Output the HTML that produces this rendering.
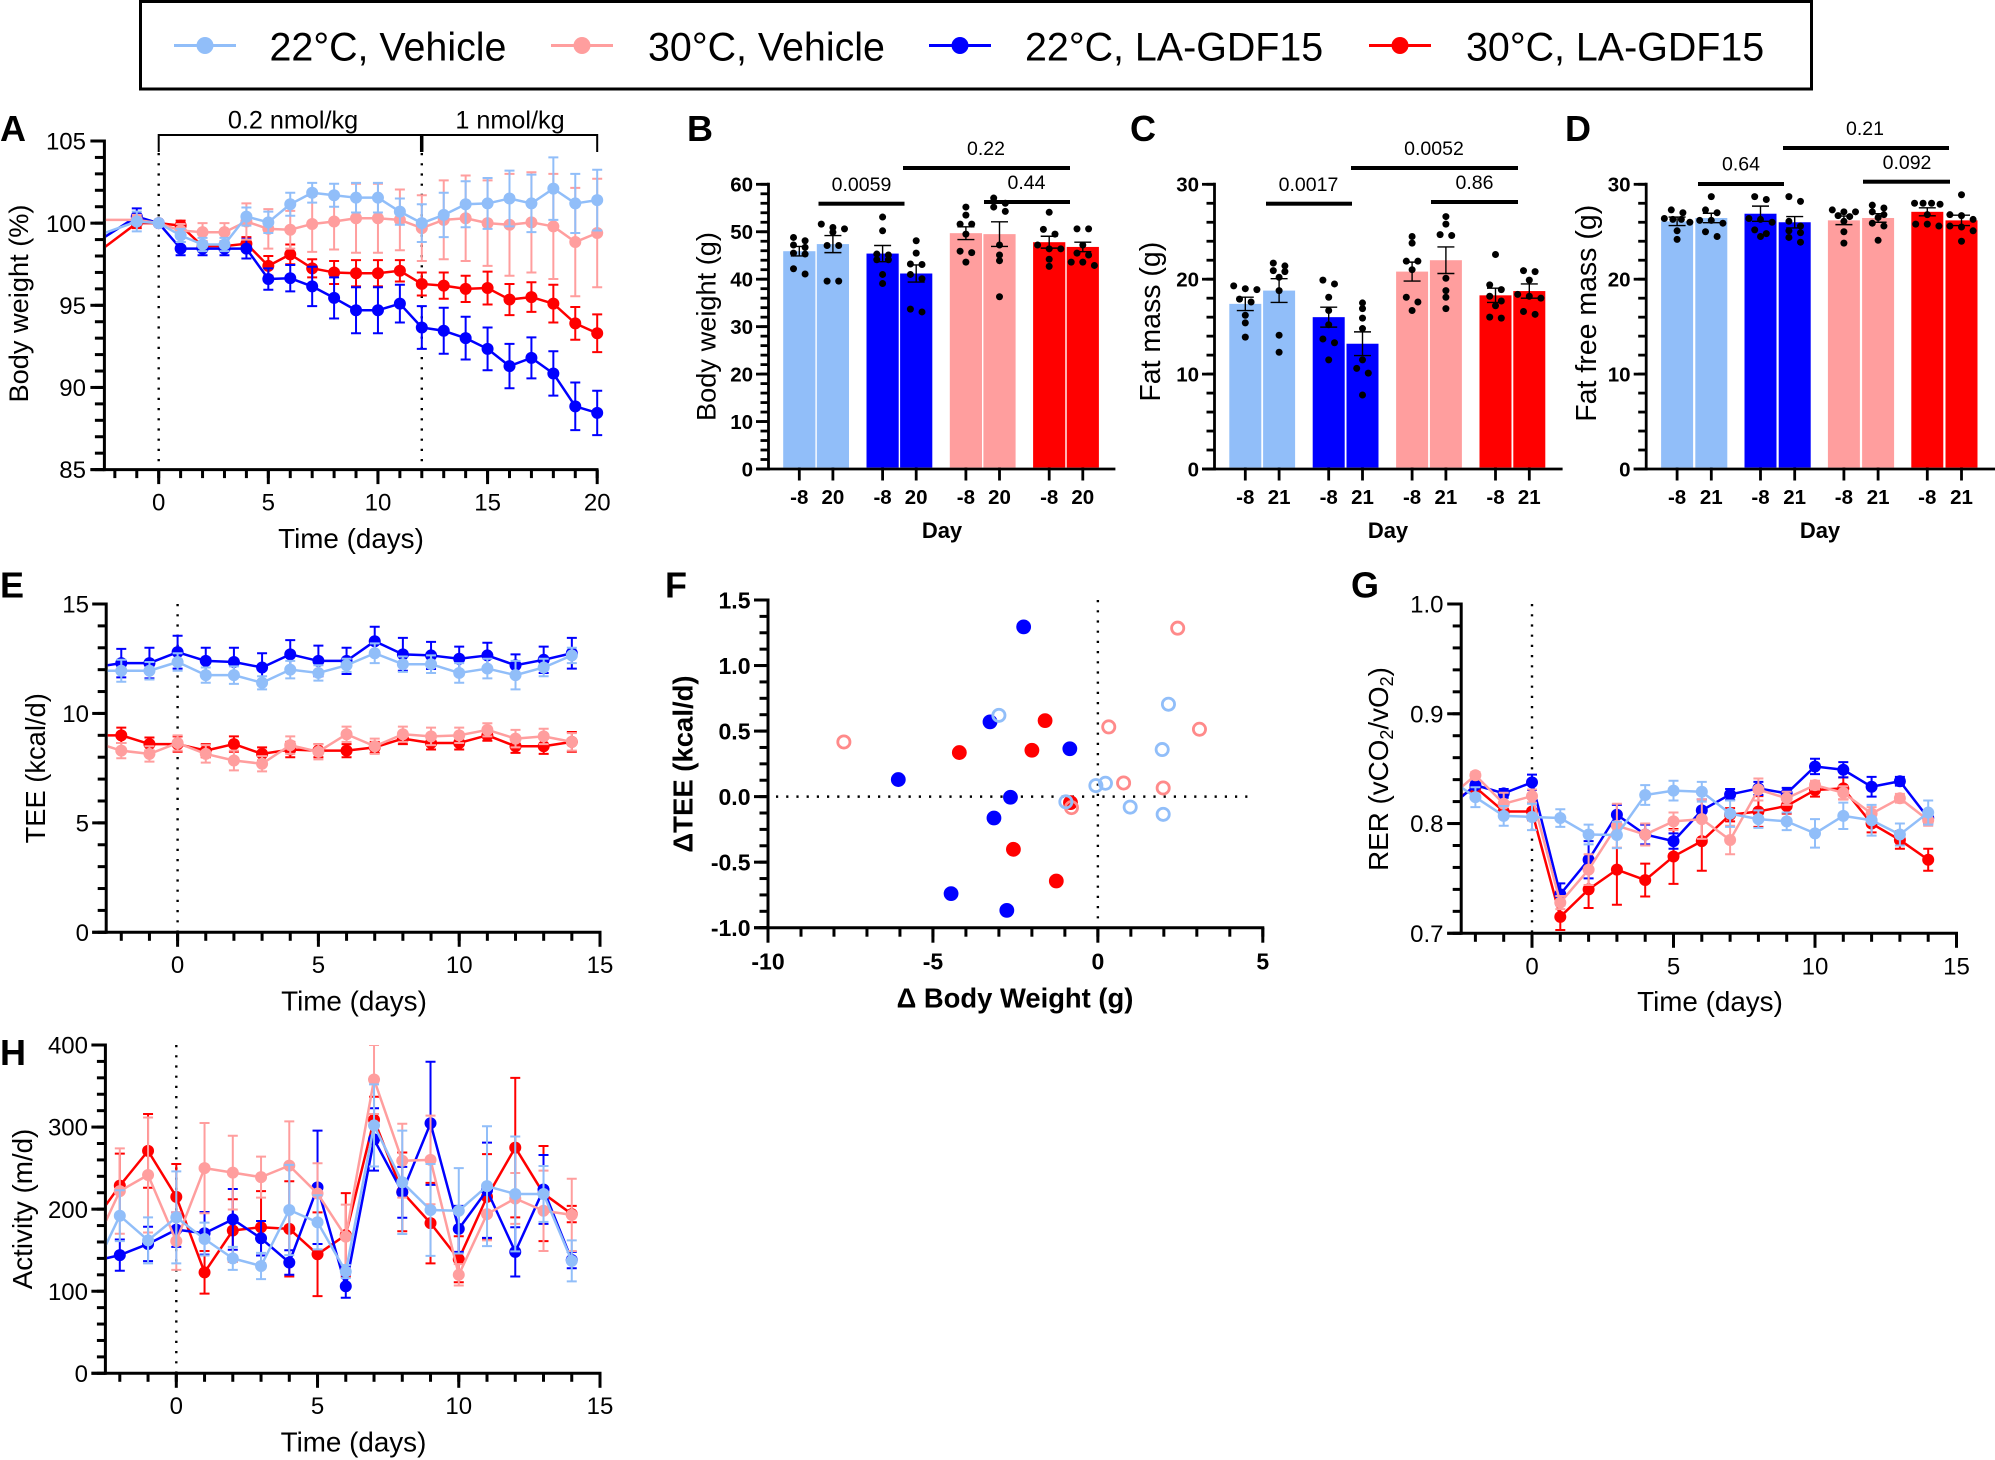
<!DOCTYPE html>
<html lang="en">
<head>
<meta charset="utf-8">
<title>Body weight, energy expenditure and activity panels</title>
<style>
html,body{margin:0;padding:0;background:#fff;}
svg{display:block;font-family:"Liberation Sans",Arial,sans-serif;}
text{fill:#000;}
</style>
</head>
<body>
<svg id="fig" xmlns="http://www.w3.org/2000/svg" width="1995" height="1460" viewBox="0 0 1995 1460">
  <rect width="1995" height="1460" fill="#fff"/>

  <g>
    <rect x="140.5" y="1.5" width="1671" height="87.5" fill="none" stroke="#000" stroke-width="3"/>
    <g>
      <line x1="174" x2="236" y1="45.5" y2="45.5" stroke="#91BEF9" stroke-width="3"/><circle cx="205" cy="45.5" r="8.5" fill="#91BEF9"/>
      <text x="269.5" y="60.5" font-size="39.4">22°C, Vehicle</text>
    </g>
    <g>
      <line x1="551" x2="613" y1="45.5" y2="45.5" stroke="#FF9E9E" stroke-width="3"/><circle cx="582" cy="45.5" r="8.5" fill="#FF9E9E"/>
      <text x="648" y="60.5" font-size="39.4">30°C, Vehicle</text>
    </g>
    <g>
      <line x1="929" x2="991" y1="45.5" y2="45.5" stroke="#0000FF" stroke-width="3"/><circle cx="960" cy="45.5" r="8.5" fill="#0000FF"/>
      <text x="1025" y="60.5" font-size="39.4">22°C, LA-GDF15</text>
    </g>
    <g>
      <line x1="1369" x2="1431" y1="45.5" y2="45.5" stroke="#FF0000" stroke-width="3"/><circle cx="1400" cy="45.5" r="8.5" fill="#FF0000"/>
      <text x="1466" y="60.5" font-size="39.4">30°C, LA-GDF15</text>
    </g>
  </g>

  <g font-weight="bold" font-size="36">
    <text x="0" y="141">A</text>
    <text x="687" y="141">B</text>
    <text x="1130" y="141">C</text>
    <text x="1565" y="141">D</text>
    <text x="0" y="597.5">E</text>
    <text x="665" y="597.5">F</text>
    <text x="1351" y="597.5">G</text>
    <text x="0" y="1065">H</text>
  </g>

  <g font-size="27.8">
    <text transform="translate(28,303.5) rotate(-90)" text-anchor="middle" font-size="27.2">Body weight (%)</text>
    <text x="351" y="548" text-anchor="middle">Time (days)</text>
    <text transform="translate(715.5,326.5) rotate(-90)" text-anchor="middle" font-size="27.2">Body weight (g)</text>
    <text transform="translate(1160,321.7) rotate(-90)" text-anchor="middle" font-size="28.5">Fat mass (g)</text>
    <text transform="translate(1596,313.3) rotate(-90)" text-anchor="middle" font-size="28.5">Fat free mass (g)</text>
    <text x="942" y="538" text-anchor="middle" font-weight="bold" font-size="22">Day</text>
    <text x="1388" y="538" text-anchor="middle" font-weight="bold" font-size="22">Day</text>
    <text x="1820" y="538" text-anchor="middle" font-weight="bold" font-size="22">Day</text>
    <text transform="translate(45,768.3) rotate(-90)" text-anchor="middle" font-size="27.3">TEE (kcal/d)</text>
    <text x="354" y="1010.5" text-anchor="middle">Time (days)</text>
    <text transform="translate(692.5,764) rotate(-90)" text-anchor="middle" font-weight="bold" font-size="27.5">ΔTEE (kcal/d)</text>
    <text x="1015" y="1007.5" text-anchor="middle" font-weight="bold" font-size="27.4">Δ Body Weight (g)</text>
    <text transform="translate(1388,769) rotate(-90)" text-anchor="middle">RER (vCO<tspan font-size="18" dy="5">2</tspan><tspan dy="-5">/vO</tspan><tspan font-size="18" dy="5">2</tspan><tspan dy="-5">)</tspan></text>
    <text x="1710" y="1011" text-anchor="middle">Time (days)</text>
    <text transform="translate(32,1209) rotate(-90)" text-anchor="middle">Activity (m/d)</text>
    <text x="353.5" y="1451.5" text-anchor="middle">Time (days)</text>
  </g>

  <g fill="none" stroke="#000">
    <path stroke-width="2" d="M158.7 152V135H597.2V152"/>
    <line x1="421.7" x2="421.7" y1="135" y2="152" stroke-width="3.5"/>
  </g>
  <text x="293" y="128.5" font-size="25.2" text-anchor="middle">0.2 nmol/kg</text>
  <text x="510" y="128.5" font-size="25.2" text-anchor="middle">1 nmol/kg</text>

  <g font-size="19.5" text-anchor="middle">
    <rect x="818.5" y="201.7" width="86" height="4"/>
    <text x="861.5" y="191">0.0059</text>
    <rect x="903" y="166" width="167" height="4"/>
    <text x="986" y="155">0.22</text>
    <rect x="984" y="200" width="86" height="4"/>
    <text x="1026.5" y="189">0.44</text>
    <rect x="1266" y="201.7" width="86" height="4"/>
    <text x="1308.5" y="191">0.0017</text>
    <rect x="1351" y="166" width="167" height="4"/>
    <text x="1434" y="155">0.0052</text>
    <rect x="1431" y="200" width="87" height="4"/>
    <text x="1474.5" y="189">0.86</text>
    <rect x="1698" y="182" width="86" height="4"/>
    <text x="1741" y="170.5">0.64</text>
    <rect x="1783" y="146" width="166" height="4"/>
    <text x="1865" y="135">0.21</text>
    <rect x="1863" y="179.7" width="87" height="4"/>
    <text x="1907" y="169">0.092</text>
  </g>
</svg>

<script>
/* ---------- Panel A: body weight (%) ---------- */
const aDays = [-3,-1,0,1,2,3,4,5,6,7,8,9,10,11,12,13,14,15,16,17,18,19,20];
const aLight = [99.15,100.1,100,99.25,98.7,98.7,100.4,100.05,101.15,101.85,101.7,101.55,101.55,100.7,100,100.5,101.15,101.2,101.5,101.2,102.1,101.2,101.4];
const aLightErr = [0,.6,0,.4,.4,.4,.55,.65,.7,.6,.7,.9,.9,.8,1.15,1.35,1.4,1.55,1.7,1.75,1.9,1.8,1.85];
const aPink = [100.2,100.2,100,99.55,99.45,99.45,100.1,99.65,99.6,99.95,100.1,100.3,100.3,100.2,99.7,100.2,100.3,100,99.9,100.05,99.8,98.85,99.4];
const aPinkErr = [0,.3,0,.4,.55,.55,1.1,1.2,1.15,1.7,1.7,2.1,2.1,1.85,2,2.4,2.6,2.6,3.1,3.05,3.2,3.3,3.3];
const aBlue = [98.7,100.4,100,98.45,98.45,98.45,98.45,96.6,96.65,96.15,95.45,94.7,94.7,95.1,93.65,93.45,93,92.35,91.3,91.8,90.85,88.85,88.45];
const aBlueErr = [0,.5,0,.4,.4,.4,.6,.65,.8,1.2,1.25,1.4,1.4,1.15,1.3,1.4,1.3,1.3,1.35,1.25,1.35,1.45,1.35];
const aRed = [98,100,100,99.85,98.6,98.6,98.75,97.4,98.1,97.25,97,96.95,96.95,97.1,96.3,96.2,96,96.05,95.35,95.5,95.1,93.9,93.3];
const aRedErr = [0,.3,0,.3,.3,.3,.4,.6,.6,.55,.7,.8,.8,.65,.7,.8,.8,1,.95,.9,1.15,1,1.15];
const aXTicks = [0,5,10,15,20];
const aYTicks = [85,90,95,100,105];

/* ---------- Panels B, C, D: bars ---------- */
const bDayLabels = ['-8','20','-8','20','-8','20','-8','20'];
const cdDayLabels = ['-8','21','-8','21','-8','21','-8','21'];
const bYTicks = [0,10,20,30,40,50,60];
const cdYTicks = [0,10,20,30];

const bMeans = [45.9,47.4,45.4,41.2,49.7,49.5,47.8,46.8];
const bSem = [1,1.8,1.7,1.8,1.35,2.6,1.25,1];
const bDots = [
  [48.8,48.1,47.2,46.7,45.5,45.3,42.2,41.1],
  [51.6,50.9,50.6,49.9,47.1,47.1,39.6,39.6],
  [53.1,50.2,45.3,45.1,44.1,44.1,41,39.1],
  [48.1,45.5,43.2,43.1,41,40.1,33.7,33.1],
  [55.2,53.5,51.6,51.6,49.5,45.9,45.6,43.6],
  [57.1,56,55.2,54.3,47.2,45.1,43.9,36.3],
  [54.1,50.5,49.5,47.2,46.4,46.4,44.2,42.7],
  [50.6,50.6,47.2,45.5,45.1,43.6,43.6,42.9]
];

const cMeans = [17.4,18.8,16,13.2,20.8,22,18.3,18.75];
const cSem = [.7,1.25,1.05,1.25,1,1.4,.75,.75];
const cDots = [
  [19.3,19,18.9,17.9,17.6,16.2,15.4,13.9],
  [21.7,21.4,20.9,20.8,20.2,18.8,14.1,12.3],
  [19.9,19.5,18.1,16.7,15.2,13.7,13.3,11.5],
  [17.5,16.9,15.9,14.8,11.5,10.6,10.1,7.8],
  [24.5,23.8,21.9,21.9,21,18.1,17.6,16.7],
  [26.6,25.8,24.7,24.6,20.1,18.8,18.1,16.9],
  [22.6,19.4,18.9,18.2,17.7,17.2,16,15.9],
  [20.9,20.8,19.9,18.4,18.2,18,16.6,16.3]
];

const dMeans = [26.1,26.45,26.9,26,26.2,26.45,27.1,26.2];
const dSem = [.45,.5,.8,.6,.45,.45,.42,.55];
const dDots = [
  [27.3,27,26.4,26.3,26.3,26,25.1,24.2],
  [28.7,27.3,27,26.2,26.2,25.9,25,24.5],
  [28.7,28.4,26.4,26.3,26,25.2,24.8,24.5],
  [28.7,28.2,26.1,25.6,25.1,24.9,24.4,23.9],
  [27.3,27.1,27.1,26.7,26.6,26.1,25,23.8],
  [27.8,27.5,27.1,26.8,26.5,25.9,25.6,24.1],
  [28,28,28,27.9,26.8,25.8,25.8,25.6],
  [28.9,26.8,26.7,26.3,25.6,25.5,25.1,24]
];

/* ---------- Panel E: TEE ---------- */
const lineDays = [-3,-2,-1,0,1,2,3,4,5,6,7,8,9,10,11,12,13,14];
const lineXTicks = [0,5,10,15];
const eYTicks = [0,5,10,15];
const eBlue = [12.1,12.3,12.3,12.8,12.4,12.35,12.1,12.7,12.4,12.4,13.3,12.7,12.65,12.5,12.65,12.2,12.45,12.75];
const eBlueErr = [0,.65,.7,.75,.6,.65,.65,.65,.7,.6,.66,.75,.62,.55,.58,.5,.6,.7];
const eLight = [11.95,11.95,11.95,12.35,11.75,11.75,11.4,12,11.85,12.2,12.75,12.25,12.25,11.85,12.05,11.75,12.1,12.65];
const eLightErr = [0,.5,.4,.4,.35,.4,.3,.4,.35,.3,.45,.35,.4,.45,.45,.65,.4,.35];
const eRed = [9,9,8.6,8.6,8.3,8.6,8.15,8.35,8.3,8.3,8.45,8.85,8.65,8.65,9,8.5,8.5,8.7];
const eRedErr = [0,.35,.3,.35,.3,.35,.3,.35,.3,.3,.25,.25,.3,.3,.25,.3,.35,.45];
const ePink = [8.7,8.3,8.15,8.65,8.15,7.85,7.7,8.55,8.25,9.05,8.5,9.05,8.95,9,9.25,8.85,8.95,8.7];
const ePinkErr = [0,.35,.35,.35,.4,.45,.35,.4,.35,.35,.35,.35,.4,.35,.3,.4,.35,.4];

/* ---------- Panel F: scatter ---------- */
const fXTicks = [-10,-5,0,5];
const fYTicks = [-1,-.5,0,.5,1,1.5];
const fBlueX = [-2.25,-3.27,-.85,-6.05,-2.65,-3.15,-4.45,-2.76];
const fBlueY = [1.295,.57,.365,.13,-.005,-.163,-.74,-.868];
const fRedX = [-1.6,-4.2,-2,-.83,-2.56,-1.26];
const fRedY = [.58,.336,.354,-.046,-.402,-.644];
const fPinkX = [-7.7,2.42,.33,3.08,.78,1.98,-.8];
const fPinkY = [.417,1.285,.532,.514,.104,.066,-.084];
const fLightX = [-3,2.14,1.95,-.06,.23,-.97,.98,1.98];
const fLightY = [.62,.705,.359,.084,.102,-.04,-.08,-.135];

/* ---------- Panel G: RER ---------- */
const gYTicks = [.7,.8,.9,1];
const gLight = [.842,.824,.807,.806,.805,.79,.7896,.826,.83,.829,.809,.804,.802,.791,.807,.803,.79,.81];
const gLightErr = [0,.009,.009,.012,.008,.009,.012,.009,.009,.009,.012,.008,.008,.013,.012,.014,.01,.011];
const gPink = [.822,.844,.818,.825,.728,.758,.798,.79,.802,.804,.785,.831,.823,.835,.828,.809,.823,.803];
const gPinkErr = [0,.003,.01,.006,.006,.014,.02,.01,.008,.018,.013,.01,.006,.004,.006,.006,.004,.005];
const gBlue = [.813,.835,.8275,.8375,.7355,.767,.808,.79,.784,.812,.8265,.832,.8275,.852,.849,.8335,.8385,.805];
const gBlueErr = [0,.003,.004,.007,.01,.017,.009,.009,.007,.01,.005,.006,.005,.007,.007,.009,.004,.005];
const gRed = [.817,.833,.811,.811,.715,.74,.758,.7485,.77,.784,.808,.811,.816,.8305,.832,.8,.785,.767];
const gRedErr = [0,.004,.006,.008,.012,.017,.032,.015,.025,.027,.006,.014,.007,.006,.01,.008,.008,.01];

/* ---------- Panel H: activity ---------- */
const hYTicks = [0,100,200,300,400];
const hRed = [181,228.6,271,215,123,174,178,176,145,168.5,309,221,183,139,215,275,219,194];
const hRedErr = [0,39,45,40,26,38,44,58,51,51,28,48,49,28,52,85,58,10];
const hPink = [148,222,241.6,161,250,244.5,239,253,219,166.5,358,259,260,120,194,213,198,193];
const hPinkErr = [0,52,70,35,55,45,25,54,37,39,42,45,54,13,32,31,49,44];
const hBlue = [136,144,157.6,175,170.6,187.6,164.5,135,226.6,106,285,220.5,304.6,176,223,148,224,138];
const hBlueErr = [0,19,21,21,26,37,21,15,69,14,38,31,75,28,58,30,42,10];
const hLight = [120,192,162,190,163.6,140,130.8,199,184,124,302,232.7,199,198,228,218.5,218.5,137];
const hLightErr = [0,31,28,56,20,14,16,55,33,8,50,63,56,52,73,70,34,25];

const LIGHT = '#91BEF9', PINK = '#FF9E9E', BLUE = '#0000FF', RED = '#FF0000';
const NS = 'http://www.w3.org/2000/svg';
const fig = document.getElementById('fig');

function make(tag, attrs, parent) {
  const n = document.createElementNS(NS, tag);
  for (const k in attrs) n.setAttribute(k, attrs[k]);
  parent.appendChild(n);
  return n;
}
function linear(d0, d1, r0, r1) {
  return v => r0 + (v - d0) * (r1 - r0) / (d1 - d0);
}
function fmt(v, dec) { return v.toFixed(dec); }

/* Draws L-shaped axes with major + minor ticks. */
function drawAxes(panel, o) {
  const g = make('g', {}, fig);
  
  
  const yAxis = make('line', {x1: o.left, x2: o.left, y1: o.top - 1.5, y2: o.bottom + 1.5, stroke: '#000', 'stroke-width': o.sw}, g);
  
  
  const xAxis = make('line', {x1: o.left - o.yMajor, x2: o.right, y1: o.bottom, y2: o.bottom, stroke: '#000', 'stroke-width': o.sw}, g);
  
  

  const nY = Math.round((o.yMax - o.yMin) / o.yMinorStep);
  for (let i = 0; i <= nY; i++) {
    const y = o.yS(o.yMin + i * o.yMinorStep);
    const minorTick = make('line', {x1: o.left - o.yMinor, x2: o.left, y1: y, y2: y, stroke: '#000', 'stroke-width': o.sw}, g);
    
    
  }
  o.yTicks.forEach(v => {
    const y = o.yS(v);
    const tick = make('line', {x1: o.left - o.yMajor, x2: o.left, y1: y, y2: y, stroke: '#000', 'stroke-width': o.sw}, g);
    
    
    const label = make('text', {x: o.yLabelX, y: y + o.labelSize * 0.36, 'text-anchor': 'end', 'font-size': o.labelSize, 'font-weight': o.labelWeight}, g);
    label.textContent = fmt(v, o.yDec);
    
    
  });

  if (o.xS) {
    if (o.xMinorStep) {
      const nX = Math.round((o.xMax - o.xMin) / o.xMinorStep);
      for (let i = 0; i <= nX; i++) {
        const x = o.xS(o.xMin + i * o.xMinorStep);
        const minorX = make('line', {x1: x, x2: x, y1: o.bottom, y2: o.bottom + o.xMinor, stroke: '#000', 'stroke-width': o.sw}, g);
        
        
      }
    }
    o.xTicks.forEach(v => {
      const x = o.xS(v);
      const tick = make('line', {x1: x, x2: x, y1: o.bottom, y2: o.bottom + o.xMajor, stroke: '#000', 'stroke-width': o.sw}, g);
      
      
      const label = make('text', {x: x, y: o.xLabelY, 'text-anchor': 'middle', 'font-size': o.labelSize, 'font-weight': o.labelWeight}, g);
      label.textContent = String(v);
      
      
    });
  }
}

function dotted(panel, x1, y1, x2, y2) {
  const l = make('line', {x1, y1, x2, y2, stroke: '#000', 'stroke-width': 2.4, 'stroke-dasharray': '2.2 8'}, fig);
  
  
}

let clipCount = 0;
/* Draws line series with SEM bars; each series is {name,color,values,errors}. */
function drawLines(panel, days, series, xS, yS, box) {
  clipCount++;
  const defs = make('defs', {}, fig);
  const clip = make('clipPath', {id: 'clip' + clipCount}, defs);
  make('rect', {x: box.left, y: box.top, width: box.right - box.left + 15, height: box.bottom - box.top}, clip);
  const root = make('g', {'clip-path': 'url(#clip' + clipCount + ')'}, fig);
  
  
  series.forEach(s => {
    const g = make('g', {}, root);
    
    
    const d = days.map((t, i) => (i ? 'L' : 'M') + xS(t).toFixed(2) + ' ' + yS(s.values[i]).toFixed(2)).join('');
    const line = make('path', {d, fill: 'none', stroke: s.color, 'stroke-width': 2.5, 'stroke-linejoin': 'round'}, g);
    
    
    days.forEach((t, i) => {
      const x = xS(t), v = s.values[i], e = s.errors[i];
      if (e > 0) {
        const y0 = yS(v - e), y1 = yS(v + e);
        const bar = make('path', {d: 'M' + (x - 5) + ' ' + y0 + 'H' + (x + 5) + 'M' + x + ' ' + y0 + 'V' + y1 + 'M' + (x - 5) + ' ' + y1 + 'H' + (x + 5), fill: 'none', stroke: s.color, 'stroke-width': 2}, g);
        
        
      }
      const point = make('circle', {cx: x, cy: yS(v), r: 6, fill: s.color}, g);
      
      
    });
  });
}

/* Draws paired bars with SEM bars and individual dots laid out in value bins. */
function drawBars(panel, means, sems, dots, labels, yS, o) {
  const colors = [LIGHT, LIGHT, BLUE, BLUE, PINK, PINK, RED, RED];
  const g = make('g', {}, fig);
  
  
  means.forEach((m, i) => {
    const cx = o.first + Math.floor(i / 2) * o.groupStep + (i % 2) * o.pairStep;
    const bar = make('rect', {x: cx - o.width / 2, y: yS(m), width: o.width, height: o.bottom - yS(m), fill: colors[i]}, g);
    
    

    const tick = make('line', {x1: cx, x2: cx, y1: o.bottom, y2: o.bottom + 13, stroke: '#000', 'stroke-width': 2.8}, g);
    
    
    const label = make('text', {x: cx, y: 504, 'text-anchor': 'middle', 'font-size': 20.5, 'font-weight': 'bold'}, g);
    label.textContent = labels[i];
    
    

    const sorted = dots[i].slice().sort((a, b) => b - a);
    let start = 0;
    while (start < sorted.length) {
      let end = start + 1;
      while (end < sorted.length && yS(sorted[end]) - yS(sorted[start]) < 5.5) end++;
      const n = end - start;
      const gap = n >= 4 ? 8.5 : 11.6;
      for (let k = 0; k < n; k++) {
        const dot = make('circle', {cx: cx + (k - (n - 1) / 2) * gap, cy: yS(sorted[start + k]), r: 3.5, fill: '#000'}, g);
        
        
      }
      start = end;
    }

    const y0 = yS(m - sems[i]), y1 = yS(m + sems[i]);
    const err = make('path', {d: 'M' + (cx - 8.5) + ' ' + y0 + 'H' + (cx + 8.5) + 'M' + cx + ' ' + y0 + 'V' + y1 + 'M' + (cx - 8.5) + ' ' + y1 + 'H' + (cx + 8.5), fill: 'none', stroke: '#000', 'stroke-width': 1.4}, g);
    
    
  });
}

function drawScatter(panel, xs, ys, color, open, xS, yS) {
  const g = make('g', {}, fig);
  
  
  xs.forEach((v, i) => {
    const attrs = open
      ? {cx: xS(v), cy: yS(ys[i]), r: 6.1, fill: 'none', stroke: color, 'stroke-width': 2.8}
      : {cx: xS(v), cy: yS(ys[i]), r: 7.4, fill: color};
    const p = make('circle', attrs, g);
    
    
  });
}

/* Panel A */
(function () {
  const xS = linear(0, 20, 158.7, 597.2), yS = linear(85, 105, 469.6, 141);
  dotted('a-day-0', xS(0), 153, xS(0), 468);
  dotted('a-day-12', xS(12), 153, xS(12), 468);
  drawAxes('a', {left: 104.4, right: 598.5, top: 141, bottom: 469.6, sw: 3, yMin: 85, yMax: 105, yMinorStep: 1, yTicks: aYTicks, yS, yMajor: 14, yMinor: 9.5, yLabelX: 86, labelSize: 24, labelWeight: 'normal', yDec: 0, xS, xMin: -2, xMax: 20, xMinorStep: 1, xTicks: aXTicks, xMajor: 14.5, xMinor: 8.5, xLabelY: 510.5});
  drawLines('a', aDays, [
    {name: 'red', color: RED, values: aRed, errors: aRedErr},
    {name: 'blue', color: BLUE, values: aBlue, errors: aBlueErr},
    {name: 'pink', color: PINK, values: aPink, errors: aPinkErr},
    {name: 'light-blue', color: LIGHT, values: aLight, errors: aLightErr}
  ], xS, yS, {left: 105.9, right: 598, top: 130, bottom: 468});
})();

/* Panels B, C, D */
(function () {
  const bS = linear(0, 60, 469, 184.3), cS = linear(0, 30, 469, 184.3);
  drawBars('b', bMeans, bSem, bDots, bDayLabels, bS, {first: 799.3, groupStep: 83.3, pairStep: 33.6, width: 32.2, bottom: 467.5});
  drawAxes('b', {left: 768.5, right: 1115.4, top: 184.3, bottom: 469, sw: 2.8, yMin: 0, yMax: 60, yMinorStep: 2, yTicks: bYTicks, yS: bS, yMajor: 12.5, yMinor: 8, yLabelX: 753, labelSize: 20.5, labelWeight: 'bold', yDec: 0});
  drawBars('c', cMeans, cSem, cDots, cdDayLabels, cS, {first: 1245.3, groupStep: 83.4, pairStep: 33.8, width: 32, bottom: 467.5});
  drawAxes('c', {left: 1214.5, right: 1562.6, top: 184.3, bottom: 469, sw: 2.8, yMin: 0, yMax: 30, yMinorStep: 2, yTicks: cdYTicks, yS: cS, yMajor: 12.5, yMinor: 8, yLabelX: 1199, labelSize: 20.5, labelWeight: 'bold', yDec: 0});
  drawBars('d', dMeans, dSem, dDots, cdDayLabels, cS, {first: 1677.1, groupStep: 83.4, pairStep: 34.2, width: 32, bottom: 467.5});
  drawAxes('d', {left: 1646.2, right: 1995, top: 184.3, bottom: 469, sw: 2.8, yMin: 0, yMax: 30, yMinorStep: 2, yTicks: cdYTicks, yS: cS, yMajor: 12.5, yMinor: 8, yLabelX: 1630.5, labelSize: 20.5, labelWeight: 'bold', yDec: 0});
})();

/* Panel E */
(function () {
  const xS = linear(0, 15, 177.6, 600), yS = linear(0, 15, 932.3, 604);
  dotted('e-day-0', xS(0), 604, xS(0), 931);
  drawAxes('e', {left: 106.2, right: 601.5, top: 604, bottom: 932.3, sw: 3, yMin: 0, yMax: 15, yMinorStep: 1, yTicks: eYTicks, yS, yMajor: 14, yMinor: 8.5, yLabelX: 89, labelSize: 24, labelWeight: 'normal', yDec: 0, xS, xMin: -2, xMax: 15, xMinorStep: 1, xTicks: lineXTicks, xMajor: 14.5, xMinor: 8.5, xLabelY: 973});
  drawLines('e', lineDays, [
    {name: 'red', color: RED, values: eRed, errors: eRedErr},
    {name: 'blue', color: BLUE, values: eBlue, errors: eBlueErr},
    {name: 'pink', color: PINK, values: ePink, errors: ePinkErr},
    {name: 'light-blue', color: LIGHT, values: eLight, errors: eLightErr}
  ], xS, yS, {left: 107.7, right: 600, top: 600, bottom: 931});
})();

/* Panel F */
(function () {
  const xS = linear(-10, 5, 768, 1262.8), yS = linear(-1, 1.5, 927.7, 600);
  dotted('f-x-zero', xS(0), 600, xS(0), 926);
  dotted('f-y-zero', 776, yS(0), 1255, yS(0));
  drawAxes('f', {left: 768, right: 1264.3, top: 600, bottom: 927.7, sw: 3, yMin: -1, yMax: 1.5, yMinorStep: .125, yTicks: fYTicks, yS, yMajor: 14, yMinor: 8.5, yLabelX: 750.5, labelSize: 23, labelWeight: 'bold', yDec: 1, xS, xMin: -10, xMax: 5, xMinorStep: 1, xTicks: fXTicks, xMajor: 15, xMinor: 9, xLabelY: 969.5});
  drawScatter('f-points-22c-la-gdf15', fBlueX, fBlueY, BLUE, false, xS, yS);
  drawScatter('f-points-30c-la-gdf15', fRedX, fRedY, RED, false, xS, yS);
  drawScatter('f-points-30c-vehicle', fPinkX, fPinkY, '#FF8A8A', true, xS, yS);
  drawScatter('f-points-22c-vehicle', fLightX, fLightY, LIGHT, true, xS, yS);
})();

/* Panel G */
(function () {
  const xS = linear(0, 15, 1532, 1956.5), yS = linear(.7, 1, 933.3, 604);
  dotted('g-day-0', xS(0), 604, xS(0), 932);
  drawAxes('g', {left: 1461.2, right: 1958, top: 604, bottom: 933.3, sw: 3, yMin: .7, yMax: 1, yMinorStep: .02, yTicks: gYTicks, yS, yMajor: 14, yMinor: 8.5, yLabelX: 1443.5, labelSize: 24, labelWeight: 'normal', yDec: 1, xS, xMin: -2, xMax: 15, xMinorStep: 1, xTicks: lineXTicks, xMajor: 14.5, xMinor: 8.5, xLabelY: 974.5});
  drawLines('g', lineDays, [
    {name: 'red', color: RED, values: gRed, errors: gRedErr},
    {name: 'blue', color: BLUE, values: gBlue, errors: gBlueErr},
    {name: 'pink', color: PINK, values: gPink, errors: gPinkErr},
    {name: 'light-blue', color: LIGHT, values: gLight, errors: gLightErr}
  ], xS, yS, {left: 1462.7, right: 1957, top: 600, bottom: 932});
})();

/* Panel H */
(function () {
  const xS = linear(0, 15, 176.3, 600), yS = linear(0, 400, 1373.3, 1045);
  dotted('h-day-0', xS(0), 1045, xS(0), 1372);
  drawAxes('h', {left: 105.4, right: 601.5, top: 1045, bottom: 1373.3, sw: 3, yMin: 0, yMax: 400, yMinorStep: 20, yTicks: hYTicks, yS, yMajor: 14, yMinor: 8.5, yLabelX: 88, labelSize: 24, labelWeight: 'normal', yDec: 0, xS, xMin: -2, xMax: 15, xMinorStep: 1, xTicks: lineXTicks, xMajor: 14.5, xMinor: 8.5, xLabelY: 1414});
  drawLines('h', lineDays, [
    {name: 'red', color: RED, values: hRed, errors: hRedErr},
    {name: 'blue', color: BLUE, values: hBlue, errors: hBlueErr},
    {name: 'pink', color: PINK, values: hPink, errors: hPinkErr},
    {name: 'light-blue', color: LIGHT, values: hLight, errors: hLightErr}
  ], xS, yS, {left: 106.9, right: 600, top: 1045, bottom: 1372});
})();
</script>
</body>
</html>
